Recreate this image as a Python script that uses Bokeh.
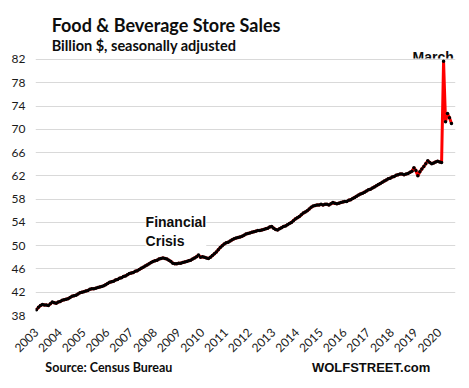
import numpy as np
from bokeh.plotting import figure
from bokeh.layouts import column
from bokeh.models import ColumnDataSource, Range1d, FixedTicker, Label
from bokeh.embed import file_html
from bokeh.resources import INLINE

# Monthly sales, billion $, seasonally adjusted (Jan 2003 - Jul 2020)
sales_2003 = [39.0, 39.4, 39.7, 39.9, 39.8, 39.8, 39.7, 40.0, 40.3, 40.2, 40.1, 40.3]
sales_2004 = [40.4, 40.6, 40.7, 40.8, 40.9, 41.1, 41.3, 41.4, 41.5, 41.7, 41.9, 42.0]
sales_2005 = [42.1, 42.2, 42.3, 42.5, 42.6, 42.6, 42.7, 42.8, 42.9, 43.0, 43.1, 43.3]
sales_2006 = [43.5, 43.7, 43.8, 43.9, 44.1, 44.2, 44.4, 44.5, 44.7, 44.8, 45.0, 45.2]
sales_2007 = [45.3, 45.4, 45.6, 45.7, 45.9, 46.1, 46.3, 46.5, 46.7, 46.9, 47.1, 47.3]
sales_2008 = [47.4, 47.5, 47.7, 47.8, 47.9, 47.8, 47.7, 47.5, 47.3, 47.0, 46.9, 46.9]
sales_2009 = [47.0, 47.0, 47.1, 47.2, 47.3, 47.4, 47.5, 47.7, 47.9, 48.1, 48.4, 48.0]
sales_2010 = [48.1, 48.0, 47.9, 47.8, 48.0, 48.3, 48.6, 48.9, 49.3, 49.7, 50.0, 50.3]
sales_2011 = [50.5, 50.6, 50.8, 51.0, 51.2, 51.3, 51.4, 51.5, 51.6, 51.8, 52.0, 52.1]
sales_2012 = [52.2, 52.3, 52.4, 52.5, 52.6, 52.6, 52.7, 52.8, 52.9, 53.0, 53.2, 53.3]
sales_2013 = [53.0, 52.8, 52.7, 52.9, 53.1, 53.3, 53.4, 53.6, 53.8, 54.0, 54.3, 54.6]
sales_2014 = [54.8, 55.0, 55.3, 55.6, 55.8, 56.0, 56.3, 56.6, 56.8, 56.9, 57.0, 57.0]
sales_2015 = [57.1, 57.0, 57.1, 57.1, 57.0, 57.2, 57.4, 57.3, 57.2, 57.3, 57.4, 57.5]
sales_2016 = [57.6, 57.6, 57.8, 57.9, 58.1, 58.3, 58.5, 58.7, 58.9, 59.0, 59.2, 59.4]
sales_2017 = [59.6, 59.7, 59.9, 60.1, 60.3, 60.5, 60.7, 60.9, 61.1, 61.3, 61.5, 61.6]
sales_2018 = [61.8, 61.9, 62.1, 62.2, 62.3, 62.3, 62.2, 62.3, 62.4, 62.6, 62.8, 63.4]
sales_2019 = [62.9, 62.0, 62.7, 63.2, 63.6, 64.1, 64.6, 64.3, 64.1, 64.2, 64.4, 64.5]
sales_2020 = [64.4, 64.3, 81.7, 71.3, 72.7, 72.0, 71.0]

years = list(range(2003, 2021))
y_ticks = [38, 42, 46, 50, 54, 58, 62, 66, 70, 74, 78, 82]
march_2020 = 2020 + 2 / 12

all_sales = (sales_2003 + sales_2004 + sales_2005 + sales_2006 + sales_2007 + sales_2008
             + sales_2009 + sales_2010 + sales_2011 + sales_2012 + sales_2013 + sales_2014
             + sales_2015 + sales_2016 + sales_2017 + sales_2018 + sales_2019 + sales_2020)
xs = [2003 + i / 12 for i in range(len(all_sales))]
src = ColumnDataSource(dict(x=xs, y=all_sales))

W = 468
TEXT = "#0d0d0d"
X0, X1 = 2002.958, 2020.67
FRAME_L, FRAME_R = 35, 13
HEAD_H = 61          # header canvas height
FRAME_TOP = 58       # page y of the plot frame's top edge
BORDER_TOP = 13      # transparent border above the frame in the main canvas
MAIN_TOP = FRAME_TOP - BORDER_TOP


def text_fig(h):
    f = figure(width=W, height=h, output_backend="svg", toolbar_location=None,
               x_range=Range1d(0, W), y_range=Range1d(0, h),
               x_axis_type=None, y_axis_type=None,
               min_border_left=0, min_border_right=0, min_border_top=0, min_border_bottom=0)
    f.outline_line_color = None
    f.grid.visible = False
    return f


def lab(fig, txt, x, y, size, font, align="left", baseline="alphabetic", bg=None):
    l = Label(x=x, y=y, text=txt, text_font=font,
              text_font_size=size, text_font_style="bold", text_color=TEXT,
              text_align=align, text_baseline=baseline)
    if bg:
        l.background_fill_color = bg
    fig.add_layout(l)


# header (title, subtitle, and the "March" note above the plot frame)
head = text_fig(HEAD_H)
lab(head, "Food & Beverage Store Sales", 18, HEAD_H - 24, "18px", "Lato")
lab(head, "Billion $, seasonally adjusted", 18, HEAD_H - 44.5, "14.5px", "Lato")
march_px = FRAME_L + (march_2020 - X0) * (W - FRAME_L - FRAME_R) / (X1 - X0)
lab(head, "March", march_px, HEAD_H - 56.5, "14px", "Liberation Sans", align="center")

# main chart (pulled up so its transparent top border overlaps the header)
p = figure(width=W, height=359 - MAIN_TOP, output_backend="svg", toolbar_location=None,
           x_range=Range1d(X0, X1), y_range=Range1d(38, 82.17),
           min_border_left=FRAME_L, min_border_right=FRAME_R, min_border_top=BORDER_TOP,
           min_border_bottom=44, margin=(MAIN_TOP - HEAD_H, 0, 0, 0))
p.outline_line_color = None
p.background_fill_color = "white"
p.border_fill_alpha = 0

p.line("x", "y", source=src, line_color="#ff0000", line_width=3)
p.scatter("x", "y", source=src, size=3.5, fill_color="black", line_color=None)

p.xgrid.visible = False
p.ygrid.grid_line_color = "#d9d9d9"
p.ygrid.grid_line_width = 1

p.yaxis.ticker = FixedTicker(ticks=y_ticks)
p.xaxis.ticker = FixedTicker(ticks=years)
for ax in (p.xaxis[0], p.yaxis[0]):
    ax.axis_line_color = None
    ax.major_tick_line_color = None
    ax.minor_tick_line_color = None
    ax.major_tick_out = 0
    ax.major_tick_in = 0
    ax.minor_tick_out = 0
    ax.major_label_text_font = "Lato"
    ax.major_label_text_font_size = "12px"
    ax.major_label_text_color = "#1a1a1a"
p.yaxis.major_label_standoff = 10
p.xaxis.major_label_orientation = np.pi / 4
p.xaxis.major_label_standoff = 15

lab(p, "Financial\nCrisis", 2007.6, 55.44, "14px", "Liberation Sans", baseline="top", bg="white")

# footer
foot = text_fig(25)
lab(foot, "Source: Census Bureau", 11, 17.5, "12.5px", "Lato")
lab(foot, "WOLFSTREET.com", 440, 17.5, "13px", "Liberation Sans", align="right")

layout = column(head, p, foot, spacing=0)
open("out.html", "w").write(file_html(layout, INLINE))
